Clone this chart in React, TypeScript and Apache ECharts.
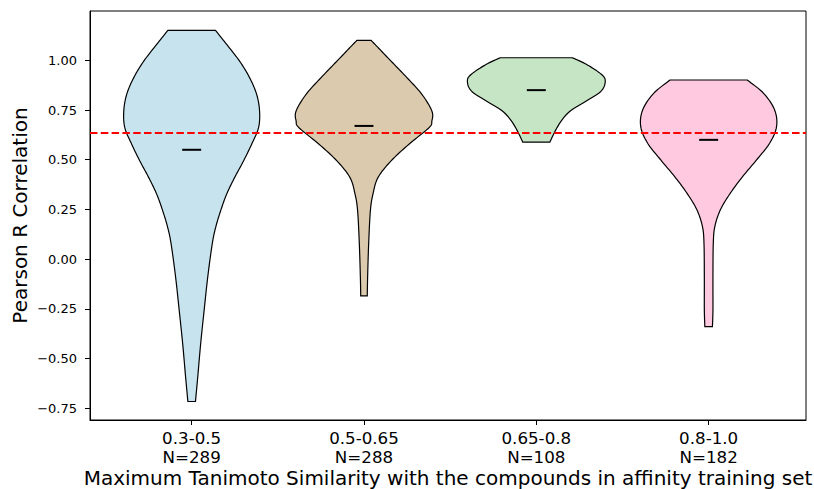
import React, { useEffect, useRef } from "react";
import * as echarts from "echarts";

// Similarity bins and their sample sizes
const categories = ["0.3-0.5", "0.5-0.65", "0.65-0.8", "0.8-1.0"];
const sampleCounts = [289, 288, 108, 182];
const positions = [1, 2, 3, 4];
const meanValues = [0.55, 0.67, 0.85, 0.6];
const overallMean = 0.635;
const yTicks = [-0.75, -0.5, -0.25, 0, 0.25, 0.5, 0.75, 1.0];
const fillColors = ["#c7e3ee", "#dbcaae", "#c6e5c5", "#ffc9df"];

// Density outlines: sample levels (top to bottom) and half-widths in x units
const levels1 = [1.151, 1.08, 0.996, 0.913, 0.829, 0.745, 0.661, 0.578, 0.494, 0.41, 0.327, 0.243, 0.159, 0.075, -0.092, -0.26, -0.427, -0.595, -0.716];
const widths1 = [0.138, 0.203, 0.278, 0.336, 0.377, 0.394, 0.388, 0.348, 0.301, 0.249, 0.203, 0.168, 0.139, 0.119, 0.093, 0.072, 0.052, 0.035, 0.022];

const levels2 = [1.1005, 1.08, 0.996, 0.913, 0.829, 0.745, 0.695, 0.661, 0.578, 0.494, 0.41, 0.327, 0.243, 0.075, -0.092, -0.185];
const widths2 = [0.041, 0.064, 0.157, 0.249, 0.336, 0.394, 0.394, 0.377, 0.261, 0.157, 0.081, 0.052, 0.037, 0.027, 0.021, 0.019];

const levels3 = [1.013, 0.98, 0.93, 0.896, 0.846, 0.795, 0.745, 0.695, 0.645, 0.589];
const widths3 = [0.209, 0.29, 0.377, 0.4, 0.377, 0.29, 0.197, 0.145, 0.11, 0.079];

const levels4 = [0.901, 0.834, 0.75, 0.666, 0.583, 0.499, 0.415, 0.332, 0.248, 0.164, 0.08, -0.087, -0.255, -0.339];
const widths4 = [0.224, 0.319, 0.383, 0.394, 0.354, 0.278, 0.197, 0.126, 0.068, 0.036, 0.027, 0.025, 0.025, 0.022];

const violinLevels = [levels1, levels2, levels3, levels4];
const violinWidths = [widths1, widths2, widths3, widths4];

const X_MIN = 0.41;
const X_MAX = 4.565;
const Y_MIN = -0.809;
const Y_MAX = 1.248;
const MEAN_HALF = 0.055;
const FONT = "DejaVu Sans";

// Catmull-Rom pass through the outline points so the edges render as curves
function smoothPath(pts: number[][], steps = 10): number[][] {
  const out: number[][] = [];
  const n = pts.length;
  for (let i = 0; i < n - 1; i++) {
    const p0 = pts[Math.max(0, i - 1)];
    const p1 = pts[i];
    const p2 = pts[i + 1];
    const p3 = pts[Math.min(n - 1, i + 2)];
    for (let s = 0; s < steps; s++) {
      const t = s / steps;
      const t2 = t * t;
      const t3 = t2 * t;
      const f = (a: number, b: number, c: number, d: number) =>
        0.5 * (2 * b + (-a + c) * t + (2 * a - 5 * b + 4 * c - d) * t2 + (-a + 3 * b - 3 * c + d) * t3);
      out.push([f(p0[0], p1[0], p2[0], p3[0]), f(p0[1], p1[1], p2[1], p3[1])]);
    }
  }
  out.push(pts[n - 1]);
  return out;
}

export default function App() {
  const ref = useRef<HTMLDivElement>(null);

  useEffect(() => {
    if (!ref.current) return;
    const chart = echarts.init(ref.current, undefined, { renderer: "svg" });

    chart.setOption({
      animation: false,
      backgroundColor: "#ffffff",
      grid: {
        left: 90,
        right: 8,
        top: 11,
        bottom: 69,
        containLabel: false,
        outerBoundsMode: "none",
        show: true,
        borderColor: "#000",
        borderWidth: 1,
        backgroundColor: "transparent",
      },
      xAxis: {
        type: "value",
        min: X_MIN,
        max: X_MAX,
        splitLine: { show: false },
        axisLine: { show: true, onZero: false, lineStyle: { color: "#000", width: 1 } },
        axisTick: { show: true, length: 5, customValues: positions, lineStyle: { color: "#000" } },
        axisLabel: {
          customValues: positions,
          margin: 8,
          fontFamily: FONT,
          fontSize: 16.7,
          lineHeight: 19,
          color: "#000",
          formatter: (v: number) => {
            const i = positions.indexOf(Math.round(v));
            return i >= 0 ? `${categories[i]}\nN=${sampleCounts[i]}` : "";
          },
        },
        name: "Maximum Tanimoto Similarity with the compounds in affinity training set",
        nameLocation: "middle",
        nameMoveOverlap: false,
        nameGap: 48,
        nameTextStyle: { fontFamily: FONT, fontSize: 20, lineHeight: 20, color: "#000" },
      },
      yAxis: {
        type: "value",
        min: Y_MIN,
        max: Y_MAX,
        splitLine: { show: false },
        axisLine: { show: true, onZero: false, lineStyle: { color: "#000", width: 1 } },
        axisTick: { show: true, length: 5, customValues: yTicks, lineStyle: { color: "#000" } },
        axisLabel: {
          customValues: yTicks,
          margin: 13,
          fontFamily: FONT,
          fontSize: 13,
          color: "#000",
          formatter: (v: number) => {
            const s = Math.abs(v).toFixed(2);
            return v < -1e-9 ? "\u2212" + s : s;
          },
        },
        name: "Pearson R Correlation",
        nameLocation: "middle",
        nameMoveOverlap: false,
        nameGap: 60,
        nameTextStyle: { fontFamily: FONT, fontSize: 20, color: "#000" },
      },
      series: [
        {
          type: "custom",
          z: 2,
          data: positions.map((p, i) => [p, meanValues[i]]),
          renderItem: (params: any, api: any) => {
            const i = params.dataIndex;
            const pos = positions[i];
            const lv = violinLevels[i];
            const wd = violinWidths[i];
            const left = lv.map((y, k) => api.coord([pos - wd[k], y]));
            const right = lv.map((y, k) => api.coord([pos + wd[k], y]));
            const outline = [...smoothPath(left), ...smoothPath(right).reverse()];
            const m1 = api.coord([pos - MEAN_HALF, meanValues[i]]);
            const m2 = api.coord([pos + MEAN_HALF, meanValues[i]]);
            return {
              type: "group",
              children: [
                {
                  type: "polygon",
                  shape: { points: outline },
                  style: { fill: fillColors[i], stroke: "#000", lineWidth: 1.2 },
                },
                {
                  type: "line",
                  shape: { x1: m1[0], y1: m1[1], x2: m2[0], y2: m2[1] },
                  style: { stroke: "#000", lineWidth: 2 },
                },
              ],
            };
          },
        },
        {
          type: "line",
          z: 5,
          data: [
            [X_MIN, overallMean],
            [X_MAX, overallMean],
          ],
          symbol: "none",
          silent: true,
          lineStyle: { color: "#ff0000", width: 2, type: [7.5, 3.3] },
        },
      ],
    });

    return () => chart.dispose();
  }, []);

  return (
    <div
      ref={ref}
      style={{ position: "absolute", left: 0, top: 0, width: 814, height: 489 }}
    />
  );
}
